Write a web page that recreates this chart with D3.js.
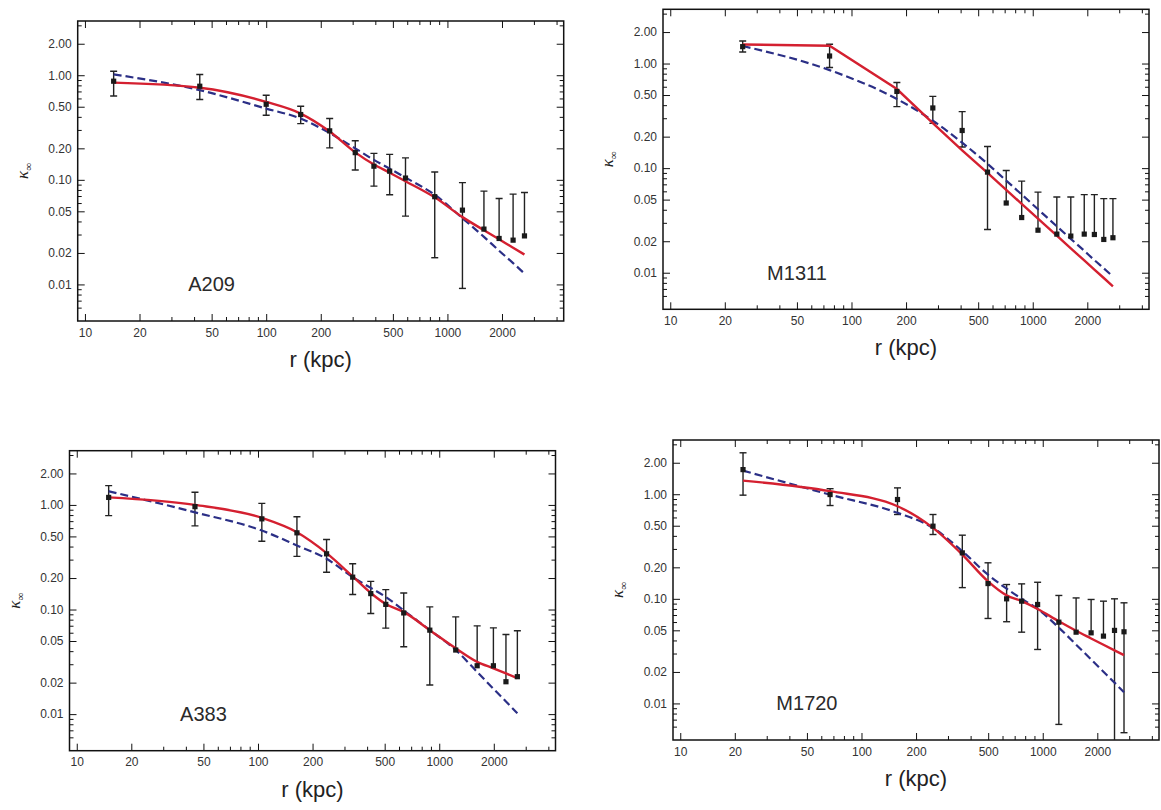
<!DOCTYPE html>
<html><head><meta charset="utf-8">
<script src="https://cdn.jsdelivr.net/npm/d3@7"></script>
<style>body{margin:0;background:#fff}svg{display:block}</style>
</head><body>
<svg id="chart" width="1161" height="810"></svg>
<script>
// ---------- tick labels / categories ----------
const panelNames = ["A209", "M1311", "A383", "M1720"];
const xTickValues = [10, 20, 50, 100, 200, 500, 1000, 2000];
const xTickLabels = ["10", "20", "50", "100", "200", "500", "1000", "2000"];
const yTickValues = [0.01, 0.02, 0.05, 0.1, 0.2, 0.5, 1, 2];
const yTickLabels = ["0.01", "0.02", "0.05", "0.10", "0.20", "0.50", "1.00", "2.00"];
const xAxisTitle = "r (kpc)";

// ---------- A209 ----------
const a209R    = [14.4, 43, 100, 155, 224, 310, 393, 480, 587, 851, 1210, 1590, 1928, 2303, 2661];
const a209K    = [0.877, 0.785, 0.528, 0.421, 0.294, 0.182, 0.135, 0.121, 0.104, 0.069, 0.0513, 0.0338, 0.0275, 0.0265, 0.0291];
const a209Hi   = [1.09, 1.016, 0.644, 0.505, 0.386, 0.236, 0.179, 0.175, 0.162, 0.119, 0.094, 0.078, 0.0664, 0.073, 0.0757];
const a209Lo   = [0.634, 0.586, 0.415, 0.345, 0.202, 0.124, 0.087, 0.072, 0.045, 0.018, 0.00916, null, null, null, null];
const a209Red  = [0.85, 0.76, 0.556, 0.43, 0.29, 0.183, 0.14, 0.117, 0.097, 0.068, 0.044, 0.033, 0.027, 0.0224, 0.0193];
const a209Blue = [1.02, 0.72, 0.48, 0.385, 0.28, 0.2, 0.155, 0.128, 0.105, 0.072, 0.043, 0.0285, 0.021, 0.016, 0.0127];

// ---------- M1311 ----------
const m1311R    = [25.1, 75.7, 178, 281, 408, 563, 714, 869, 1069, 1358, 1622, 1924, 2188, 2466, 2770];
const m1311K    = [1.45, 1.18, 0.541, 0.376, 0.229, 0.0916, 0.0464, 0.0337, 0.0255, 0.0234, 0.0224, 0.0234, 0.0232, 0.0208, 0.0216];
const m1311Hi   = [1.64, 1.53, 0.659, 0.485, 0.347, 0.161, 0.095, 0.0752, 0.059, 0.053, 0.053, 0.0558, 0.0558, 0.0511, 0.0511];
const m1311Lo   = [1.29, 0.916, 0.387, 0.268, 0.159, 0.0259, null, null, null, null, null, null, null, null, null];
const m1311Red  = [1.52, 1.48, 0.57, 0.27, 0.148, 0.09, 0.062, 0.0455, 0.0329, 0.0226, 0.0171, 0.0131, 0.0107, 0.0089, 0.0074];
const m1311Blue = [1.47, 0.865, 0.458, 0.284, 0.175, 0.11, 0.076, 0.056, 0.0404, 0.0278, 0.0211, 0.0162, 0.0132, 0.011, 0.0092];

// ---------- A383 ----------
const a383R    = [15.0, 44.9, 105, 164, 239, 333, 419, 507, 637, 887, 1233, 1619, 1990, 2334, 2698];
const a383K    = [1.18, 0.963, 0.736, 0.541, 0.341, 0.204, 0.142, 0.112, 0.0928, 0.0635, 0.041, 0.029, 0.029, 0.0204, 0.0228];
const a383Hi   = [1.53, 1.32, 1.035, 0.77, 0.467, 0.274, 0.186, 0.155, 0.144, 0.106, 0.085, 0.0698, 0.0668, 0.0578, 0.0626];
const a383Lo   = [0.79, 0.63, 0.45, 0.322, 0.227, 0.139, 0.0916, 0.0664, 0.044, 0.019, null, null, null, null, null];
const a383Red  = [1.18, 1.0, 0.752, 0.548, 0.346, 0.207, 0.144, 0.113, 0.095, 0.0635, 0.0426, 0.0316, 0.0274, 0.0245, 0.0221];
const a383Blue = [1.35, 0.85, 0.569, 0.41, 0.306, 0.204, 0.161, 0.132, 0.098, 0.0635, 0.041, 0.0253, 0.0175, 0.0132, 0.0102];

// ---------- M1720 ----------
const m1720R    = [22.2, 67.1, 158, 248, 360, 499, 632, 765, 937, 1227, 1528, 1849, 2163, 2489, 2808];
const m1720K    = [1.72, 0.993, 0.89, 0.495, 0.275, 0.14, 0.1, 0.095, 0.0883, 0.0598, 0.048, 0.0473, 0.044, 0.0499, 0.0484];
const m1720Hi   = [2.49, 1.13, 1.15, 0.64, 0.406, 0.221, 0.137, 0.139, 0.144, 0.1077, 0.102, 0.0986, 0.095, 0.1, 0.0916];
const m1720Lo   = [0.98, 0.78, 0.64, 0.412, 0.128, 0.0649, 0.0604, 0.048, 0.0328, 0.0063, null, null, null, 0.001, 0.00525];
const m1720Red  = [1.35, 1.07, 0.768, 0.477, 0.265, 0.147, 0.108, 0.095, 0.08, 0.061, 0.0495, 0.0418, 0.0364, 0.0322, 0.029];
const m1720Blue = [1.68, 0.99, 0.664, 0.477, 0.285, 0.17, 0.125, 0.1, 0.08, 0.053, 0.0365, 0.0263, 0.0201, 0.0158, 0.0128];

// ---------- build ----------
const panels = [
  {name: panelNames[0], r: a209R, k: a209K, hi: a209Hi, lo: a209Lo, red: a209Red, blue: a209Blue},
  {name: panelNames[1], r: m1311R, k: m1311K, hi: m1311Hi, lo: m1311Lo, red: m1311Red, blue: m1311Blue},
  {name: panelNames[2], r: a383R, k: a383K, hi: a383Hi, lo: a383Lo, red: a383Red, blue: a383Blue},
  {name: panelNames[3], r: m1720R, k: m1720K, hi: m1720Hi, lo: m1720Lo, red: m1720Red, blue: m1720Blue}
];
const frames = [{x: 77.7, y: 21}, {x: 663, y: 9.3}, {x: 69.5, y: 450.7}, {x: 673, y: 440}];
const W = 486, H = 300;
const xDomain = [9.12, 4380], yDomain = [0.00447, 3.3];

const svg = d3.select("#chart");
const FONT = "'Liberation Sans', Arial, Helvetica, sans-serif";

function minorValues(lo, hi, decades) {
  const out = [];
  decades.forEach(p => [3, 4, 6, 7, 8, 9].forEach(m => {
    const v = m * Math.pow(10, p);
    if (v > lo && v < hi) out.push(v);
  }));
  return out;
}

panels.forEach((p, i) => {
  const f = frames[i];
  const g = svg.append("g").attr("transform", `translate(${f.x},${f.y})`);
  const x = d3.scaleLog().domain(xDomain).range([0, W]);
  const y = d3.scaleLog().domain(yDomain).range([H, 0]);

  const clipId = "clip" + i;
  g.append("clipPath").attr("id", clipId).append("rect").attr("width", W).attr("height", H);

  const xMinor = minorValues(xDomain[0], xDomain[1], [0, 1, 2, 3]);
  const yMinor = minorValues(yDomain[0], yDomain[1], [-3, -2, -1, 0]);

  // bottom axis (labels, inward ticks)
  const bx = g.append("g").attr("transform", `translate(0,${H})`)
    .call(d3.axisBottom(x).tickValues(xTickValues).tickFormat((d, j) => xTickLabels[j]).tickSizeInner(-7).tickSizeOuter(0).tickPadding(7));
  g.append("g").attr("transform", `translate(0,${H})`)
    .call(d3.axisBottom(x).tickValues(xMinor).tickFormat("").tickSizeInner(-4).tickSizeOuter(0));
  // top axis
  g.append("g").call(d3.axisTop(x).tickValues(xTickValues).tickFormat("").tickSizeInner(-7).tickSizeOuter(0));
  g.append("g").call(d3.axisTop(x).tickValues(xMinor).tickFormat("").tickSizeInner(-4).tickSizeOuter(0));
  // left axis
  const ly = g.append("g")
    .call(d3.axisLeft(y).tickValues(yTickValues).tickFormat((d, j) => yTickLabels[j]).tickSizeInner(-7).tickSizeOuter(0).tickPadding(6));
  g.append("g").call(d3.axisLeft(y).tickValues(yMinor).tickFormat("").tickSizeInner(-4).tickSizeOuter(0));
  // right axis
  g.append("g").attr("transform", `translate(${W},0)`)
    .call(d3.axisRight(y).tickValues(yTickValues).tickFormat("").tickSizeInner(-7).tickSizeOuter(0));
  g.append("g").attr("transform", `translate(${W},0)`)
    .call(d3.axisRight(y).tickValues(yMinor).tickFormat("").tickSizeInner(-4).tickSizeOuter(0));

  g.selectAll(".domain").remove();
  g.selectAll(".tick line").attr("stroke", "#111").attr("stroke-width", 1);
  g.selectAll(".tick text").attr("font-family", FONT).attr("font-size", 12).attr("fill", "#333");

  // frame
  g.append("rect").attr("width", W).attr("height", H).attr("fill", "none").attr("stroke", "#111").attr("stroke-width", 1.5);

  const plot = g.append("g").attr("clip-path", `url(#${clipId})`);
  const idx = d3.range(p.r.length);

  // error bars
  idx.forEach(j => {
    const xi = x(p.r[j]);
    const top = y(p.hi[j]);
    const bot = p.lo[j] == null ? y(p.k[j]) : y(p.lo[j]);
    plot.append("line").attr("x1", xi).attr("x2", xi).attr("y1", top).attr("y2", bot)
      .attr("stroke", "#222").attr("stroke-width", 1.4);
    plot.append("line").attr("x1", xi - 3.5).attr("x2", xi + 3.5).attr("y1", top).attr("y2", top)
      .attr("stroke", "#222").attr("stroke-width", 1.4);
    if (p.lo[j] != null) {
      plot.append("line").attr("x1", xi - 3.5).attr("x2", xi + 3.5).attr("y1", bot).attr("y2", bot)
        .attr("stroke", "#222").attr("stroke-width", 1.4);
    }
  });

  // models
  const lineRed = d3.line().x(j => x(p.r[j])).y(j => y(p.red[j])).curve(d3.curveMonotoneX);
  const lineBlue = d3.line().x(j => x(p.r[j])).y(j => y(p.blue[j])).curve(d3.curveMonotoneX);
  plot.append("path").attr("d", lineBlue(idx)).attr("fill", "none")
    .attr("stroke", "#2b2f86").attr("stroke-width", 2.2).attr("stroke-dasharray", "8,4");
  plot.append("path").attr("d", i === 1 ? d3.line().x(j => x(p.r[j])).y(j => y(p.red[j]))(idx) : lineRed(idx))
    .attr("fill", "none").attr("stroke", "#d42030").attr("stroke-width", 2.4);

  // markers
  plot.selectAll("rect.pt").data(idx).enter().append("rect").attr("class", "pt")
    .attr("x", j => x(p.r[j]) - 2.6).attr("y", j => y(p.k[j]) - 2.6)
    .attr("width", 5.2).attr("height", 5.2).attr("fill", "#1a1a1a");

  // cluster name
  g.append("text").attr("x", x(50)).attr("y", y(0.01) + 7).attr("text-anchor", "middle")
    .attr("font-family", FONT).attr("font-size", 20).attr("fill", "#2a2a2a").text(p.name);

  // x title
  g.append("text").attr("x", W / 2).attr("y", H + 46).attr("text-anchor", "middle")
    .attr("font-family", FONT).attr("font-size", 22).attr("fill", "#222").text(xAxisTitle);

  // y title  κ∞
  const yt = g.append("text").attr("transform", `translate(-50,${H / 2}) rotate(-90)`)
    .attr("text-anchor", "middle").attr("font-family", "'Liberation Serif', 'DejaVu Serif', serif")
    .attr("fill", "#222");
  yt.append("tspan").attr("font-style", "italic").attr("font-size", 17).text("κ");
  yt.append("tspan").attr("font-size", 11).attr("dy", 4).text("∞");
});
</script>
</body></html>
